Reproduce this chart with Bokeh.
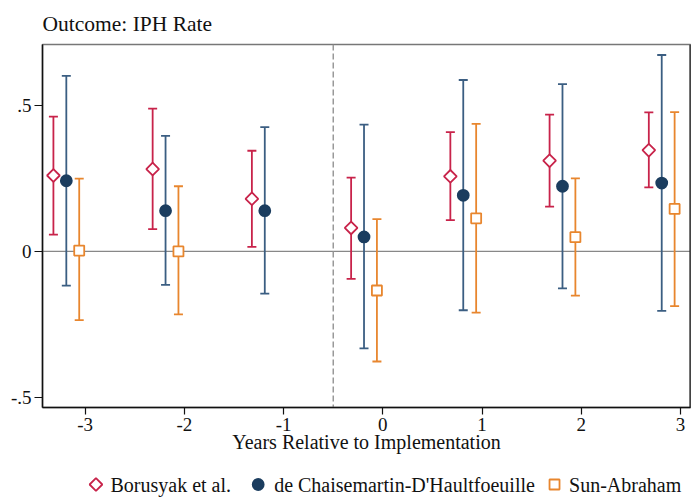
import math
from bokeh.plotting import figure
from bokeh.layouts import column
from bokeh.models import (FixedTicker, Span, Whisker, TeeHead, ColumnDataSource, Range1d)
from bokeh.core.properties import value
from bokeh.embed import file_html
from bokeh.resources import INLINE

# ---- data ----
periods = [-3, -2, -1, 0, 1, 2, 3]
b_est = [0.261, 0.283, 0.181, 0.081, 0.258, 0.312, 0.348]
b_lo = [0.058, 0.077, 0.016, -0.094, 0.108, 0.154, 0.220]
b_hi = [0.463, 0.491, 0.346, 0.254, 0.410, 0.470, 0.478]

d_est = [0.243, 0.140, 0.140, 0.050, 0.193, 0.224, 0.235]
d_lo = [-0.117, -0.115, -0.145, -0.333, -0.202, -0.127, -0.204]
d_hi = [0.603, 0.397, 0.427, 0.436, 0.589, 0.575, 0.675]

s_periods = [-3, -2, 0, 1, 2, 3]
s_est = [0.003, 0.000, -0.134, 0.114, 0.049, 0.146]
s_lo = [-0.236, -0.216, -0.378, -0.210, -0.152, -0.188]
s_hi = [0.250, 0.224, 0.111, 0.438, 0.251, 0.479]

x_ticks = [-3, -2, -1, 0, 1, 2, 3]
x_tick_labels = {-3: "-3", -2: "-2", -1: "-1", 0: "0", 1: "1", 2: "2", 3: "3"}
y_ticks = [-0.5, 0, 0.5]
y_tick_labels = {-0.5: "-.5", 0: "0", 0.5: ".5"}

series_names = ["Borusyak et al.", "de Chaisemartin-D'Haultfoeuille", "Sun-Abraham"]

FONT = "Liberation Serif"
RED = "#C8234A"
NAVY_BAR = "#3B5E82"
NAVY = "#1B3D5F"
ORANGE = "#E8862E"

MAIN_H = 466
LEG_H = 498 - MAIN_H

p = figure(width=691, height=MAIN_H, output_backend="svg", toolbar_location=None,
           x_range=Range1d(-3.43, 3.10), y_range=Range1d(-0.536, 0.711),
           min_border_left=42, min_border_right=1, min_border_top=42,
           min_border_bottom=59)
p.background_fill_color = "white"
p.border_fill_color = "white"
p.outline_line_color = "#777777"
p.outline_line_width = 1.5
p.xgrid.visible = False
p.ygrid.visible = False

p.title.text = "Outcome: IPH Rate"
p.title.text_font = FONT
p.title.text_font_size = "21.5px"
p.title.text_font_style = "normal"
p.title.text_color = "#111111"
p.title.align = "left"
p.title.standoff = 18

# reference lines and the dark right edge of the plot region
p.add_layout(Span(location=0, dimension="width", line_color="#888888",
                  line_width=1.3, level="underlay"))
p.add_layout(Span(location=-0.5, dimension="height", line_color="#999999",
                  line_width=1.5, line_dash="6 3", level="underlay"))
p.add_layout(Span(location=p.x_range.end, dimension="height", line_color="#111111",
                  line_width=2))

def add_series(xs, est, lo, hi, offset, bar_color, marker, mcolor, fill, size, angle=0.0):
    src = ColumnDataSource(dict(x=[v + offset for v in xs], est=est, lo=lo, hi=hi))
    w = Whisker(base="x", upper="hi", lower="lo", source=src, dimension="height",
                line_color=bar_color, line_width=1.8, level="underlay",
                upper_head=TeeHead(size=9, line_color=bar_color, line_width=1.8),
                lower_head=TeeHead(size=9, line_color=bar_color, line_width=1.8))
    p.add_layout(w)
    p.scatter("x", "est", source=src, marker=marker, size=size, angle=angle,
              line_color=mcolor, fill_color=fill, line_width=1.8)

add_series(periods, b_est, b_lo, b_hi, -0.32, RED, "square", RED, "white", 9, math.pi / 4)
add_series(periods, d_est, d_lo, d_hi, -0.19, NAVY_BAR, "circle", NAVY, NAVY, 11)
add_series(s_periods, s_est, s_lo, s_hi, -0.06, ORANGE, "square", ORANGE, "white", 10)

# axes
p.xaxis.ticker = FixedTicker(ticks=x_ticks)
p.xaxis.major_label_overrides = x_tick_labels
p.xaxis.axis_label = "Years Relative to Implementation"
p.xaxis.axis_label_text_font = FONT
p.xaxis.axis_label_text_font_size = "20px"
p.xaxis.axis_label_text_font_style = "normal"
p.xaxis.axis_label_text_color = "#111111"
p.xaxis.axis_label_standoff = -3
p.yaxis.ticker = FixedTicker(ticks=y_ticks)
p.yaxis.major_label_overrides = y_tick_labels
for ax in (p.xaxis, p.yaxis):
    ax.major_label_text_font = FONT
    ax.major_label_text_font_size = "19px"
    ax.major_label_text_color = "#111111"
    ax.axis_line_color = "#111111"
    ax.axis_line_width = 1.5
    ax.major_tick_line_color = "#111111"
    ax.major_tick_line_width = 1.2
    ax.major_tick_in = 0
    ax.minor_tick_line_color = None
p.xaxis.major_tick_out = 7
p.yaxis.major_tick_out = 8
p.xaxis.major_label_standoff = 3
p.yaxis.major_label_standoff = 3
p.yaxis.major_label_orientation = "horizontal"

# ---- legend strip (a second, axis-less figure below the plot) ----
leg = figure(width=691, height=LEG_H, output_backend="svg", toolbar_location=None,
             x_range=Range1d(0, 691), y_range=Range1d(0, LEG_H),
             min_border=0, x_axis_location=None, y_axis_location=None)
leg.outline_line_color = None
leg.xgrid.visible = False
leg.ygrid.visible = False
leg.background_fill_color = "white"
leg.border_fill_color = "white"

leg_marker_x = [57, 230, 546]
leg_text_x = [72.5, 247, 561.5]
leg_y = 14
leg.scatter([leg_marker_x[0]], [leg_y], marker="square", angle=math.pi / 4, size=9,
            line_color=RED, fill_color="white", line_width=1.8)
leg.scatter([leg_marker_x[1]], [leg_y], marker="circle", size=11,
            line_color=NAVY, fill_color=NAVY, line_width=1.8)
leg.scatter([leg_marker_x[2]], [leg_y], marker="square", size=10,
            line_color=ORANGE, fill_color="white", line_width=1.8)
leg.text(x=leg_text_x, y=[leg_y] * 3, text=series_names,
         text_font=value(FONT), text_font_size="20px", text_color="#111111",
         text_baseline="middle", text_align="left")

layout = column(p, leg, spacing=0)
open("out.html", "w").write(file_html(layout, INLINE))
